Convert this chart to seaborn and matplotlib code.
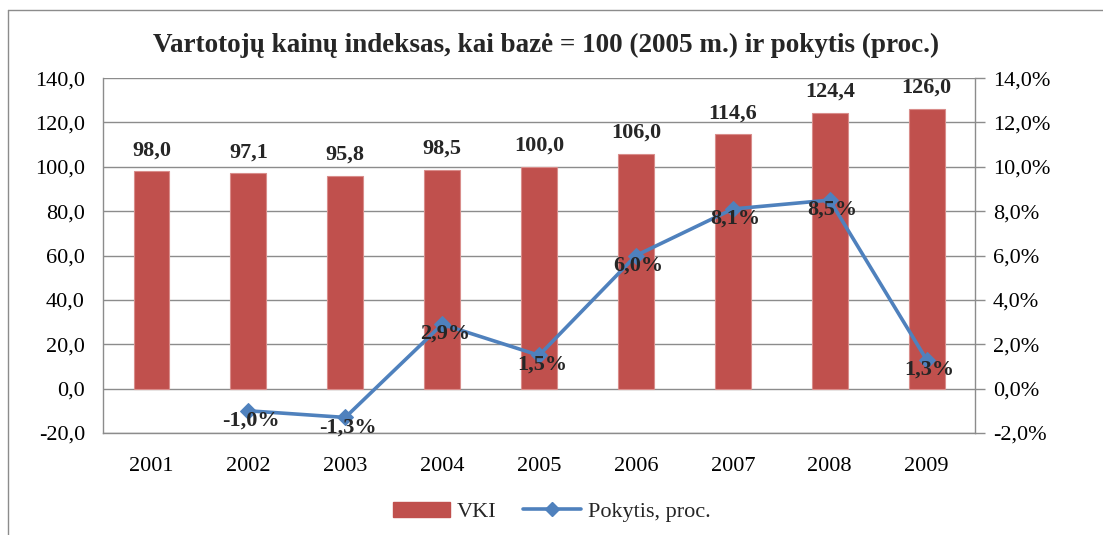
import seaborn as sns
import pandas as pd
import matplotlib.pyplot as plt
from matplotlib.lines import Line2D
from matplotlib.patches import Patch

# data
years = ['2001', '2002', '2003', '2004', '2005', '2006', '2007', '2008', '2009']
vki = [98.0, 97.1, 95.8, 98.5, 100.0, 106.0, 114.6, 124.4, 126.0]
pct_years = ['2002', '2003', '2004', '2005', '2006', '2007', '2008', '2009']
pct = [-1.0, -1.3, 2.9, 1.5, 6.0, 8.1, 8.5, 1.3]

left_ticks = [-20, 0, 20, 40, 60, 80, 100, 120, 140]
right_ticks = [-2, 0, 2, 4, 6, 8, 10, 12, 14]

title = 'Vartotojų kainų indeksas, kai bazė = 100 (2005 m.) ir pokytis (proc.)'

RED = '#C0504D'
BLUE = '#4F81BD'
GRID = '#8c8c8c'


def comma(v, digits=1):
    return f'{v:.{digits}f}'.replace('.', ',')


sns.set_theme(style='white')
plt.rcParams['font.family'] = ['Liberation Serif', 'DejaVu Serif']

df_bar = pd.DataFrame({'year': years, 'vki': vki})
df_line = pd.DataFrame({'pos': [years.index(y) for y in pct_years], 'pct': pct})

fig = plt.figure(figsize=(11.03, 5.35), dpi=100)
ax = fig.add_axes([0.0934, 0.1907, 0.7906, 0.6633])

sns.barplot(data=df_bar, x='year', y='vki', color=RED, saturation=1, width=0.37,
            edgecolor='#d98d8b', linewidth=0.8, ax=ax)
ax.set_ylim(-20, 140)
ax.set_yticks(left_ticks)
ax.set_yticklabels([comma(v) for v in left_ticks])
ax.set_xlim(-0.5, len(years) - 0.5)
ax.set_xlabel('')
ax.set_ylabel('')
ax.yaxis.grid(True, color=GRID, linewidth=1)
ax.set_axisbelow(True)
ax.tick_params(axis='y', length=0, pad=13, labelsize=16, colors='black')
ax.tick_params(axis='x', length=0, pad=17, labelsize=16, colors='black')
for side in ['top', 'right']:
    ax.spines[side].set_visible(False)
for side in ['left', 'bottom']:
    ax.spines[side].set_color(GRID)
    ax.spines[side].set_linewidth(1)

ax.bar_label(ax.containers[0], labels=[comma(v) for v in vki], padding=8,
             fontsize=16, fontweight='bold')

ax2 = ax.twinx()
sns.lineplot(data=df_line, x='pos', y='pct', color=BLUE, linewidth=2.6,
             marker='D', markersize=8, markeredgecolor=BLUE, ax=ax2)
ax2.set_ylim(-2, 14)
ax2.set_yticks(right_ticks)
ax2.set_yticklabels([comma(v) + '%' for v in right_ticks])
ax2.set_xlim(-0.5, len(years) - 0.5)
ax2.set_ylabel('')
ax2.set_xlabel('')
ax2.tick_params(axis='y', length=7, width=1, pad=6, labelsize=16,
                colors=GRID, labelcolor='black')
for side in ['top', 'left', 'bottom']:
    ax2.spines[side].set_visible(False)
ax2.spines['right'].set_color(GRID)
ax2.spines['right'].set_linewidth(1)

for x, y in zip(df_line['pos'], df_line['pct']):
    ax2.annotate(comma(y) + '%', (x, y), xytext=(2, -7), textcoords='offset points',
                 ha='center', va='center', fontsize=16, fontweight='bold')

fig.text(0.495, 0.916, title, ha='center', va='center', fontsize=19.5,
         fontweight='bold')

handles = [Patch(facecolor=RED, edgecolor=RED),
           Line2D([0], [0], color=BLUE, linewidth=2.6, marker='D', markersize=7)]
fig.legend(handles, ['VKI', 'Pokytis, proc.'], loc='center', ncol=2,
           bbox_to_anchor=(0.5, 0.043), frameon=False, fontsize=16,
           handlelength=2.6, columnspacing=1.2, handletextpad=0.3)

# chart frame (top and left edges visible in the reference)
fig.add_artist(Line2D([8 / 1103, 1], [1 - 10 / 535, 1 - 10 / 535],
                      color=GRID, linewidth=1, transform=fig.transFigure))
fig.add_artist(Line2D([8 / 1103, 8 / 1103], [0, 1 - 10 / 535],
                      color=GRID, linewidth=1, transform=fig.transFigure))

fig.savefig('out.png', dpi=100)
